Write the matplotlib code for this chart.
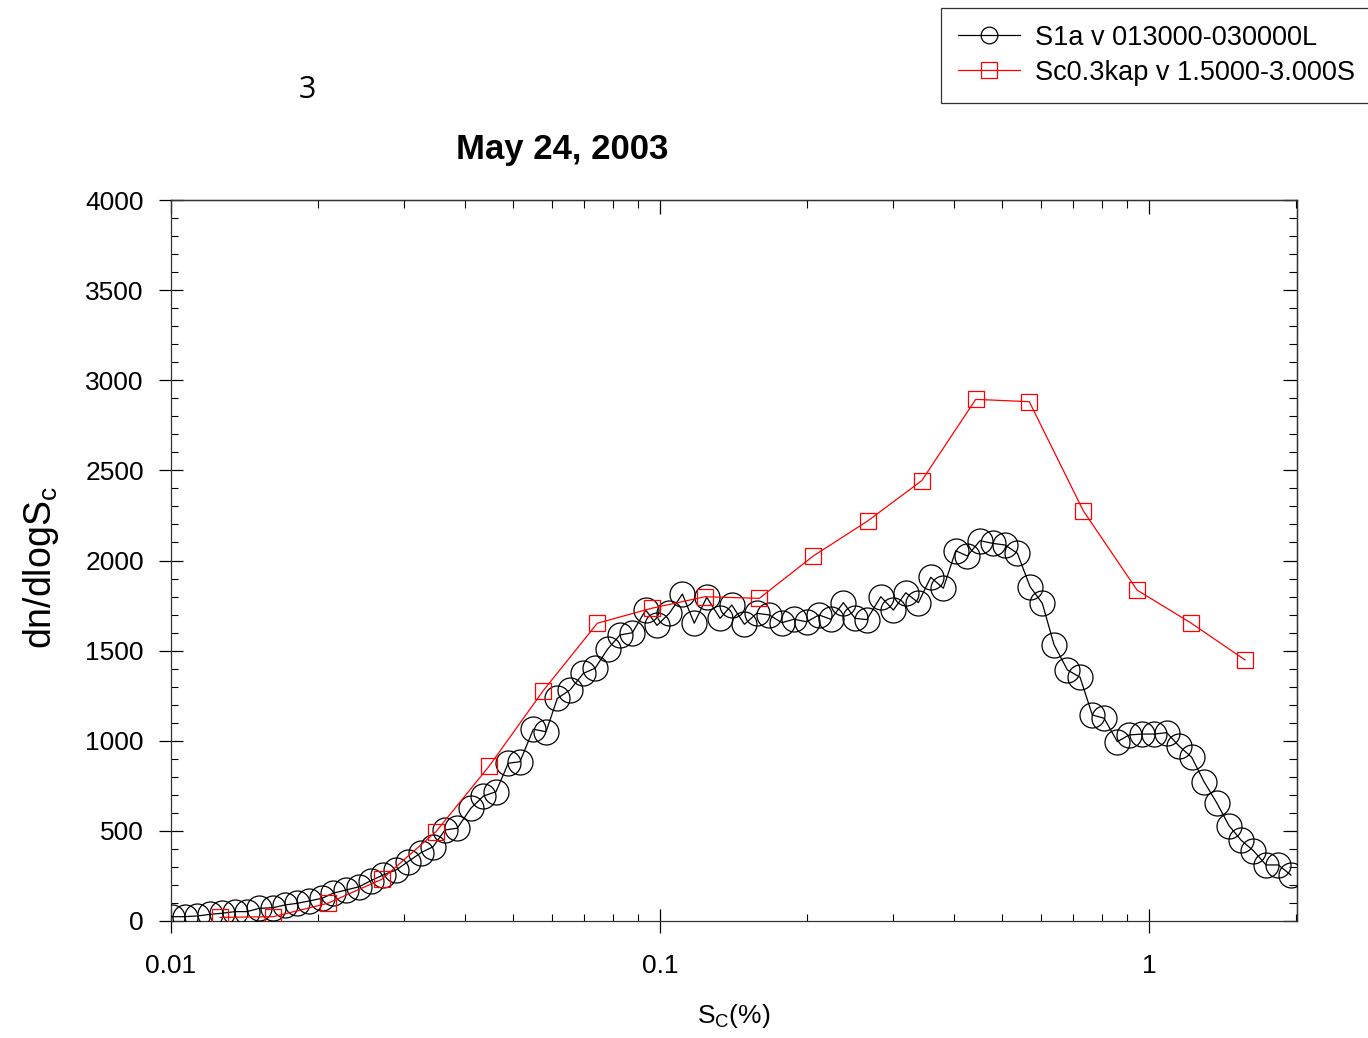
import matplotlib
matplotlib.use("Agg")
import matplotlib.pyplot as plt
from matplotlib.lines import Line2D
from matplotlib.ticker import FixedLocator, FixedFormatter, MultipleLocator, LogLocator, NullFormatter

plt.rcParams['font.family'] = ['Liberation Sans', 'DejaVu Sans']
plt.rcParams['mathtext.fontset'] = 'custom'
plt.rcParams['mathtext.rm'] = 'Liberation Sans'

# ---- data ----
s1a_sc = [0.01003, 0.01068, 0.01132, 0.01202, 0.01271, 0.01352, 0.01430, 0.01514, 0.01617, 0.01711,
          0.01810, 0.01915, 0.02036, 0.02145, 0.02280, 0.02424, 0.02564, 0.02713, 0.02885, 0.03052,
          0.03245, 0.03434, 0.03634, 0.03850, 0.04102, 0.04353, 0.04618, 0.04894, 0.05172, 0.05507,
          0.05847, 0.06166, 0.06546, 0.06970, 0.07365, 0.07817, 0.08283, 0.08777, 0.09349, 0.09860,
          0.1045, 0.1111, 0.1175, 0.1246, 0.1327, 0.1402, 0.1488, 0.1577, 0.1673, 0.1774,
          0.1879, 0.1995, 0.2114, 0.2234, 0.2371, 0.2505, 0.2647, 0.2828, 0.3000, 0.3180,
          0.3375, 0.3577, 0.3796, 0.4024, 0.4250, 0.4512, 0.4790, 0.5076, 0.5380, 0.5710,
          0.6049, 0.6393, 0.6808, 0.7226, 0.7656, 0.8091, 0.8614, 0.9103, 0.9662, 1.0238,
          1.0868, 1.1516, 1.2226, 1.2955, 1.3752, 1.4572, 1.5418, 1.6346, 1.7352, 1.8384,
          1.9494]
s1a_dn = [24, 24, 28, 37, 43, 52, 52, 70, 74, 89,
          98, 111, 126, 154, 172, 190, 224, 255, 283, 329,
          379, 412, 505, 515, 625, 693, 717, 875, 884, 1064,
          1050, 1235, 1282, 1374, 1402, 1509, 1587, 1599, 1725, 1640,
          1707, 1814, 1652, 1796, 1679, 1753, 1646, 1707, 1698, 1655,
          1674, 1660, 1698, 1674, 1766, 1679, 1672, 1799, 1725, 1821,
          1766, 1907, 1846, 2054, 2025, 2110, 2095, 2086, 2040, 1855,
          1763, 1533, 1393, 1352, 1143, 1125, 995, 1032, 1037, 1037,
          1045, 971, 908, 773, 656, 529, 449, 390, 311, 311,
          255]

sc03_sc = [0.01260, 0.01619, 0.02091, 0.02697, 0.03483, 0.04476, 0.05770, 0.07444, 0.09617, 0.1236,
           0.1596, 0.2058, 0.2657, 0.3429, 0.4422, 0.5690, 0.7337, 0.9451, 1.2204, 1.5720]
sc03_dn = [20, 24, 98, 231, 496, 860, 1278, 1652, 1735, 1799,
           1790, 2025, 2219, 2443, 2894, 2881, 2276, 1836, 1652, 1448]

series_labels = ['S1a v 013000-030000L', 'Sc0.3kap v 1.5000-3.000S']
x_ticks = [0.01, 0.1, 1]
x_ticklabels = ['0.01', '0.1', '1']
y_ticks = [0, 500, 1000, 1500, 2000, 2500, 3000, 3500, 4000]

# ---- figure ----
W, H = 1368, 1038
fig = plt.figure(figsize=(W / 100, H / 100), dpi=100)
ax = fig.add_axes([171 / W, 1 - 921 / H, (1297 - 171) / W, (921 - 200) / H])

ax.plot(s1a_sc, s1a_dn, color='black', lw=0.9, marker='o', ms=18, mfc='none',
        mec='black', mew=0.9, zorder=3)
ax.plot(sc03_sc, sc03_dn, color='#ff0000', lw=0.9, marker='s', ms=11.5, mfc='none',
        mec='#ff0000', mew=0.9, zorder=4)

ax.set_xscale('log')
ax.set_xlim(0.01, 2.007)
ax.set_ylim(0, 4000)

ax.xaxis.set_major_locator(FixedLocator(x_ticks))
ax.xaxis.set_major_formatter(FixedFormatter(x_ticklabels))
ax.xaxis.set_minor_locator(LogLocator(base=10, subs=range(2, 10)))
ax.xaxis.set_minor_formatter(NullFormatter())
ax.yaxis.set_major_locator(FixedLocator(y_ticks))
ax.yaxis.set_minor_locator(MultipleLocator(100))

ax.tick_params(which='major', direction='inout', length=17, width=0.9, labelsize=19,
               top=False, right=False)
ax.tick_params(axis='x', which='major', pad=15)
ax.tick_params(axis='y', which='major', pad=11)
ax.tick_params(which='minor', direction='in', length=5, width=0.8, top=False, right=False)

for sp in ax.spines.values():
    sp.set_linewidth(0.9)
    sp.set_color('#333333')

secx = ax.secondary_xaxis('top')
secx.xaxis.set_major_locator(FixedLocator(x_ticks))
secx.xaxis.set_minor_locator(LogLocator(base=10, subs=range(2, 10)))
secx.tick_params(which='major', direction='in', length=10, width=0.9, labeltop=False)
secx.tick_params(which='minor', direction='in', length=5.5, width=0.8, labeltop=False)
secx.spines['top'].set_linewidth(0.9)

secy = ax.secondary_yaxis('right')
secy.yaxis.set_major_locator(FixedLocator(y_ticks))
secy.yaxis.set_minor_locator(MultipleLocator(100))
secy.tick_params(which='major', direction='in', length=10, width=0.9, labelright=False)
secy.tick_params(which='minor', direction='in', length=5.5, width=0.8, labelright=False)
secy.spines['right'].set_linewidth(0.9)

ax.set_xlabel(r'S$_\mathregular{C}$(%)', fontsize=19)
ax.xaxis.set_label_coords(0.5, -0.112)
ax.set_ylabel(r'dn/dlogS$_\mathregular{c}$', fontsize=27)
ax.yaxis.set_label_coords(-0.098, 0.49)

fig.text(562 / W, 1 - 150 / H, 'May 24, 2003', ha='center', va='center',
         fontsize=25, fontweight='bold',
         family=['Liberation Sans Narrow', 'Liberation Sans', 'DejaVu Sans'])
fig.text(307 / W, 1 - 90 / H, '3', ha='center', va='center', fontsize=22,
         family=['Open Sans', 'DejaVu Sans'])

handles = [
    Line2D([], [], color='black', lw=0.9, marker='o', ms=12, mfc='none', mec='black', mew=0.9),
    Line2D([], [], color='#ff0000', lw=0.9, marker='s', ms=11.5, mfc='none', mec='#ff0000', mew=0.9),
]
leg = fig.legend(handles, series_labels, loc='upper right',
                 bbox_to_anchor=(1372 / W, 1 - 8 / H),
                 borderaxespad=0, fontsize=19.5, frameon=True, fancybox=False,
                 edgecolor='black', handlelength=2.3, handletextpad=0.55,
                 labelspacing=0.33, borderpad=0.62)
leg.get_frame().set_linewidth(0.9)

fig.savefig('out.png', dpi=100)
